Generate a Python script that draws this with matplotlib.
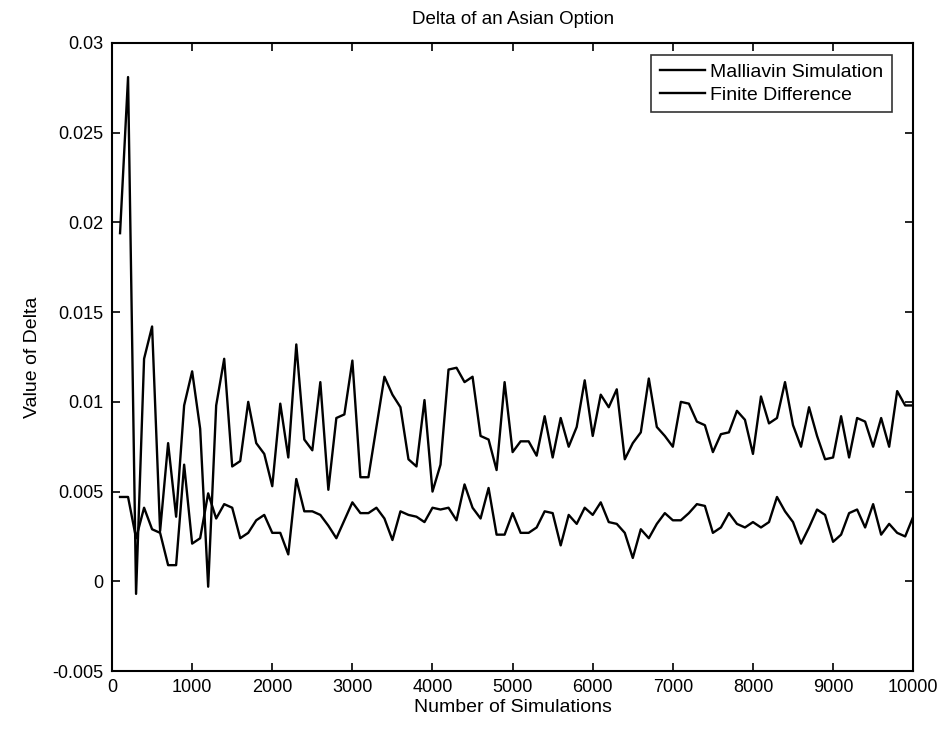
import numpy as np
import matplotlib
matplotlib.use("Agg")
import matplotlib.pyplot as plt

plt.rcParams['font.family'] = ['Liberation Sans', 'DejaVu Sans']

# number of simulations (x) and the two estimates of delta
n_sims = np.arange(100, 10001, 100)

malliavin = [
    0.0194, 0.0281, -0.0007, 0.0124, 0.0142, 0.0028, 0.0077, 0.0036, 0.0098, 0.0117,
    0.0085, -0.0003, 0.0098, 0.0124, 0.0064, 0.0067, 0.0100, 0.0077, 0.0071, 0.0053,
    0.0099, 0.0069, 0.0132, 0.0079, 0.0073, 0.0111, 0.0051, 0.0091, 0.0093, 0.0123,
    0.0058, 0.0058, 0.0086, 0.0114, 0.0104, 0.0097, 0.0068, 0.0064, 0.0101, 0.0050,
    0.0065, 0.0118, 0.0119, 0.0111, 0.0114, 0.0081, 0.0079, 0.0062, 0.0111, 0.0072,
    0.0078, 0.0078, 0.0070, 0.0092, 0.0069, 0.0091, 0.0075, 0.0086, 0.0112, 0.0081,
    0.0104, 0.0097, 0.0107, 0.0068, 0.0077, 0.0083, 0.0113, 0.0086, 0.0081, 0.0075,
    0.0100, 0.0099, 0.0089, 0.0087, 0.0072, 0.0082, 0.0083, 0.0095, 0.0090, 0.0071,
    0.0103, 0.0088, 0.0091, 0.0111, 0.0087, 0.0075, 0.0097, 0.0081, 0.0068, 0.0069,
    0.0092, 0.0069, 0.0091, 0.0089, 0.0075, 0.0091, 0.0075, 0.0106, 0.0098, 0.0098,
]

finite_diff = [
    0.0047, 0.0047, 0.0024, 0.0041, 0.0029, 0.0027, 0.0009, 0.0009, 0.0065, 0.0021,
    0.0024, 0.0049, 0.0035, 0.0043, 0.0041, 0.0024, 0.0027, 0.0034, 0.0037, 0.0027,
    0.0027, 0.0015, 0.0057, 0.0039, 0.0039, 0.0037, 0.0031, 0.0024, 0.0034, 0.0044,
    0.0038, 0.0038, 0.0041, 0.0035, 0.0023, 0.0039, 0.0037, 0.0036, 0.0033, 0.0041,
    0.0040, 0.0041, 0.0034, 0.0054, 0.0041, 0.0035, 0.0052, 0.0026, 0.0026, 0.0038,
    0.0027, 0.0027, 0.0030, 0.0039, 0.0038, 0.0020, 0.0037, 0.0032, 0.0041, 0.0037,
    0.0044, 0.0033, 0.0032, 0.0027, 0.0013, 0.0029, 0.0024, 0.0032, 0.0038, 0.0034,
    0.0034, 0.0038, 0.0043, 0.0042, 0.0027, 0.0030, 0.0038, 0.0032, 0.0030, 0.0033,
    0.0030, 0.0033, 0.0047, 0.0039, 0.0033, 0.0021, 0.0030, 0.0040, 0.0037, 0.0022,
    0.0026, 0.0038, 0.0040, 0.0030, 0.0043, 0.0026, 0.0032, 0.0027, 0.0025, 0.0036,
]

x_ticks = np.arange(0, 10001, 1000)
y_ticks = [-0.005, 0, 0.005, 0.01, 0.015, 0.02, 0.025, 0.03]
y_tick_labels = ['-0.005', '0', '0.005', '0.01', '0.015', '0.02', '0.025', '0.03']

fig = plt.figure(figsize=(9.47, 7.32), dpi=100)
ax = fig.add_axes([0.1183, 0.0833, 0.8460, 0.8580])

ax.plot(n_sims, malliavin, color='black', lw=1.7, label='Malliavin Simulation')
ax.plot(n_sims, finite_diff, color='black', lw=1.7, label='Finite Difference')

ax.set_xlim(0, 10000)
ax.set_ylim(-0.005, 0.03)
ax.set_xticks(x_ticks)
ax.set_xticklabels([str(t) for t in x_ticks])
ax.set_yticks(y_ticks)
ax.set_yticklabels(y_tick_labels)

ax.tick_params(direction='in', length=6, width=1.2, top=True, right=True,
               labelsize=13, pad=6)
for s in ax.spines.values():
    s.set_linewidth(1.5)

ax.set_title('Delta of an Asian Option', fontsize=13.5, pad=14)
ax.set_xlabel('Number of Simulations', fontsize=14, labelpad=2)
ax.set_ylabel('Value of Delta', fontsize=14, labelpad=8)

leg = ax.legend(loc='upper right', bbox_to_anchor=(0.974, 0.981), borderaxespad=0,
                fontsize=14, frameon=True, fancybox=False, handlelength=2.3,
                handletextpad=0.3, labelspacing=0.25, borderpad=0.45)
leg.get_frame().set_edgecolor('black')
leg.get_frame().set_linewidth(1.2)

fig.savefig('out.png', dpi=100)
